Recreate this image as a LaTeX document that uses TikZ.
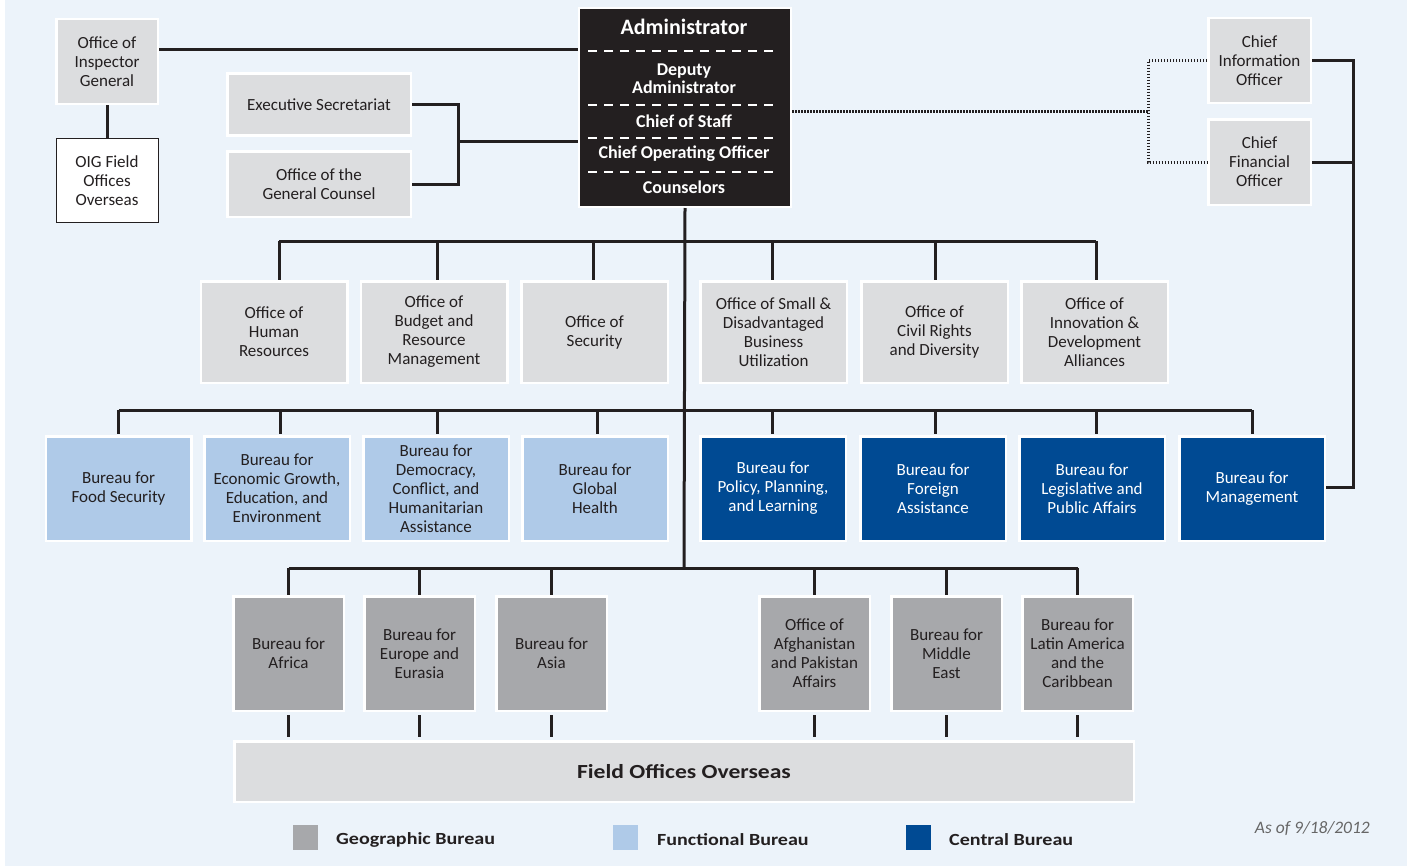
\documentclass[tikz,border=0pt]{standalone}
\usepackage{fontspec}
\setmainfont{Carlito}
\newfontfamily\widebold{Carlito}[FakeStretch=1.18]
\usetikzlibrary{calc}
\definecolor{bgc}{HTML}{ECF3FA}
\definecolor{lgray}{HTML}{DCDDDF}
\definecolor{ggray}{HTML}{A7A8AB}
\definecolor{lblue}{HTML}{AFCAE8}
\definecolor{dblue}{HTML}{004A93}
\definecolor{ink}{HTML}{231F20}
\definecolor{dategray}{HTML}{666666}
\tikzset{
  box/.style={draw=white, line width=2.5pt, inner sep=0pt, align=center, text=ink,
    font=\fontsize{17}{19}\selectfont},
  offbox/.style={box, fill=lgray},
  funbox/.style={box, fill=lblue},
  cenbox/.style={box, fill=dblue, text=white},
  geobox/.style={box, fill=ggray},
  r2/.style={minimum width=146.5pt, minimum height=101.5pt},
  r3/.style={minimum width=145.5pt, minimum height=104.5pt},
  r4/.style={minimum width=110.5pt, minimum height=114.5pt},
  conn/.style={draw=ink, line width=3pt},
  dotconn/.style={draw=ink, line width=3pt, dash pattern=on 1.5pt off 1.5pt},
  admtxt/.style={text=white, font=\bfseries\fontsize{18}{18}\selectfont, align=center, inner sep=0pt},
  admdash/.style={draw=white, line width=2pt, dash pattern=on 9pt off 7pt},
  legsq/.style={minimum width=25pt, minimum height=25pt, inner sep=0pt},
  legtxt/.style={anchor=west, text=ink, font=\widebold\bfseries\fontsize{17}{17}\selectfont, inner sep=0pt},
}
\begin{document}
\begin{tikzpicture}[x=1pt, y=-1pt]
\useasboundingbox (0,0) rectangle (1413,867);
\fill[white] (0,0) rectangle (1413,867);
\fill[bgc] (5,0) rectangle (1407,866);

% top row
\node[offbox, minimum width=101.5pt, minimum height=84.5pt] (oig) at (107,61.5) {Office of\\Inspector\\General};
\node[box, draw=ink, line width=1pt, fill=white, minimum width=102pt, minimum height=84pt] (oigf) at (107,180.5) {OIG Field\\Offices\\Overseas};
\node[offbox, minimum width=183.5pt, minimum height=61.5pt] (es) at (319,104.5) {Executive Secretariat};
\node[offbox, minimum width=183.5pt, minimum height=65.5pt] (gc) at (319,184) {Office of the\\General Counsel};
\node[draw=white, line width=2pt, fill=ink, minimum width=212pt, minimum height=199pt, inner sep=0pt] (admin) at (685,107.5) {};
\node[offbox, minimum width=102.5pt, minimum height=84.5pt] (cio) at (1259.5,60.5) {Chief\\Information\\Officer};
\node[offbox, minimum width=102.5pt, minimum height=85.5pt] (cfo) at (1259.5,162) {Chief\\Financial\\Officer};

% admin contents
\node[admtxt, font=\bfseries\fontsize{22}{22}\selectfont] (a1) at (684,27) {Administrator};
\node[admtxt, font=\bfseries\fontsize{18}{18}\selectfont] (a2) at (684,79) {Deputy\\Administrator};
\node[admtxt] (a3) at (684,121) {Chief of Staff};
\node[admtxt] (a4) at (684,154) {Chief Operating Officer};
\node[admtxt] (a5) at (684,187) {Counselors};
\foreach \yy in {51,105,138,172} \draw[admdash] (588,\yy) -- (780,\yy);

% row 2
\node[offbox, r2] (hr)  at (274,332) {Office of\\Human\\Resources};
\node[offbox, r2] (brm) at (434,332) {Office of\\Budget and\\Resource\\Management};
\node[offbox, r2] (sec) at (594.5,332) {Office of\\Security};
\node[offbox, r2] (osd) at (773.5,332) {Office of Small \&\\Disadvantaged\\Business\\Utilization};
\node[offbox, r2] (crd) at (934.5,332) {Office of\\Civil Rights\\and Diversity};
\node[offbox, r2] (ida) at (1094.5,332) {Office of\\Innovation \&\\Development\\Alliances};

% row 3
\node[funbox, r3] (food) at (118.5,488.5) {Bureau for\\Food Security};
\node[funbox, r3] (econ) at (277,488.5) {Bureau for\\Economic Growth,\\Education, and\\Environment};
\node[funbox, r3] (dem)  at (436,488.5) {Bureau for\\Democracy,\\Conflict, and\\Humanitarian\\Assistance};
\node[funbox, r3] (gh)   at (595,488.5) {Bureau for\\Global\\Health};
\node[cenbox, r3] (ppl)  at (773,488.5) {Bureau for\\Policy, Planning,\\and Learning};
\node[cenbox, r3] (fa)   at (933,488.5) {Bureau for\\Foreign\\Assistance};
\node[cenbox, r3] (lpa)  at (1092,488.5) {Bureau for\\Legislative and\\Public Affairs};
\node[cenbox, r3] (mgmt) at (1252,488.5) {Bureau for\\Management};

% row 4
\node[geobox, r4] (afr) at (288.5,653.5) {Bureau for\\Africa};
\node[geobox, r4] (eur) at (419.5,653.5) {Bureau for\\Europe and\\Eurasia};
\node[geobox, r4] (asia) at (551.5,653.5) {Bureau for\\Asia};
\node[geobox, r4] (afg) at (814.5,653.5) {Office of\\Afghanistan\\and Pakistan\\Affairs};
\node[geobox, r4] (me)  at (946.5,653.5) {Bureau for\\Middle\\East};
\node[geobox, r4] (lac) at (1077.5,653.5) {Bureau for\\Latin America\\and the\\Caribbean};

\node[offbox, minimum width=899.5pt, minimum height=60.5pt, font=\widebold\bfseries\fontsize{20}{20}\selectfont] (field) at (684,771.5) {Field Offices Overseas};

% connectors top
\coordinate (y50) at (0,50);
\draw[conn] (oig.east |- y50) -- (admin.west |- y50);
\draw[conn] (oig.south) -- (oigf.north);
\coordinate (bx) at (458,141);
\draw[conn] (es.east) -| (bx) |- (gc.east);
\draw[conn] (bx) -- (admin.west |- bx);
\coordinate (dj) at (1148,111);
\draw[dotconn] (admin.east |- dj) -- (dj);
\draw[dotconn] (cio.west) -| (dj) |- (cfo.west);
\coordinate (rj) at (1353,487);
\draw[conn] (cio.east) -| (rj) -- (mgmt.east |- rj);
\draw[conn] (cfo.east) -- (cfo.east -| rj);

% main spine
\coordinate (b2) at (684,241);
\coordinate (b3) at (684,410);
\coordinate (b4) at (684,568);
\draw[conn] (admin.south) -- (b4);
\draw[conn] ($(hr.north |- b2)+(5,0)$) -- ($(ida.north |- b2)+(1.5,0)$);
\foreach \n/\dx in {hr/5,brm/3,sec/-1.5,osd/-1.5,crd/0.5,ida/1.5}
  \draw[conn] ($(\n.north |- b2)+(\dx,0)$) -- ($(\n.north)+(\dx,0)$);
\draw[conn] (food.north |- b3) -- (mgmt.north |- b3);
\foreach \n/\dx in {food/0,econ/3,dem/1,gh/2,ppl/-1,fa/2,lpa/4,mgmt/0}
  \draw[conn] ($(\n.north |- b3)+(\dx,0)$) -- ($(\n.north)+(\dx,-1.5)$);
\draw[conn] (afr.north |- b4) -- (lac.north |- b4);
\foreach \n in {afr,eur,asia,afg,me,lac} {
  \draw[conn] (\n.north |- b4) -- (\n.north);
  \draw[conn] ($(\n.south)+(0,3)$) -- ($(\n.south |- field.north)+(0,-3)$);
}

% legend
\node[legsq, fill=ggray] (lg1) at (305.5,837.5) {};
\node[legtxt] (lt1) at (336,840) {Geographic Bureau};
\node[legsq, fill=lblue] (lg2) at (625.5,837.5) {};
\node[legtxt] (lt2) at (657,840) {Functional Bureau};
\node[legsq, fill=dblue] (lg3) at (918,837.5) {};
\node[legtxt] (lt3) at (949,840) {Central Bureau};
\node[anchor=east, inner sep=0pt, text=dategray, font=\itshape\fontsize{17.5}{17.5}\selectfont] (date) at (1370,829) {As of 9/18/2012};
\end{tikzpicture}
\end{document}
